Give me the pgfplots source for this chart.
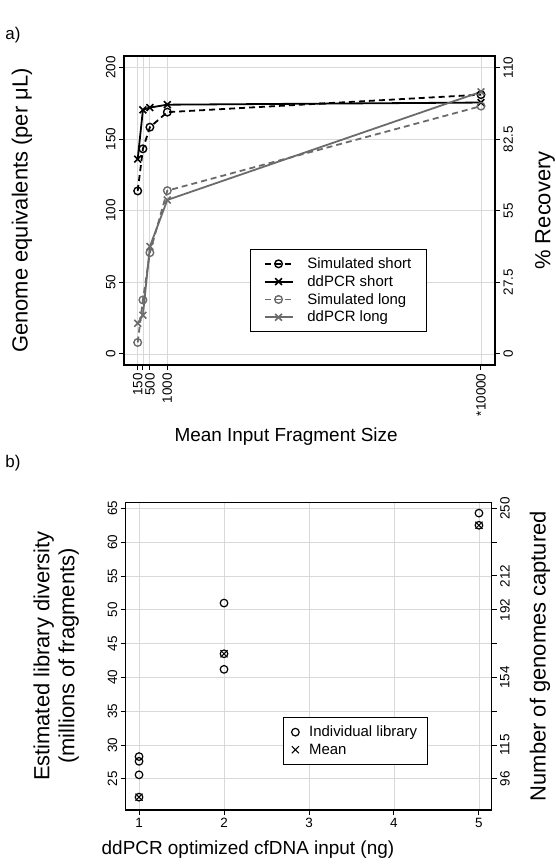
\documentclass[border=0pt]{standalone}
\usepackage{pgfplots}
\pgfplotsset{compat=1.18}
\usepackage{fontspec}
\setmainfont{Liberation Sans}
\definecolor{gridc}{gray}{0.85}
\definecolor{dgrey}{gray}{0.42}
\pgfplotsset{
  base/.style={
    scale only axis,
    tick align=outside,
    major tick length=5bp,
    axis line style={line width=1.4bp},
    every tick/.style={black, line width=1bp},
    /pgf/number format/assume math mode=true,
    ticklabel style={font=\fontsize{13.5}{16}\selectfont},
    xlabel style={font=\fontsize{19}{24}\selectfont},
    ylabel style={font=\fontsize{22}{25}\selectfont},
    scaled ticks=false,
  },
}
\begin{document}
\begin{tikzpicture}[x=1bp,y=1bp]
\useasboundingbox (0,0) rectangle (556,865);
\node[font=\fontsize{17}{20}\selectfont] at (13,830) {a)};
\node[font=\fontsize{17}{20}\selectfont] at (13,402) {b)};

% ---------- panel a ----------
\begin{axis}[base,
  at={(124bp,500bp)}, anchor=south west,
  width=371bp, height=309bp,
  xmin=-243, xmax=10402, ymin=-7.7, ymax=208,
  xtick={150,300,500,1000,10000}, xticklabels={150,,500,1000,*10000},
  ytick={0,50,100,150,200},
  xtick pos=bottom, ytick pos=left,
  grid=major, major grid style={gridc, line width=0.8bp},
  xticklabel style={rotate=90, anchor=east},
  yticklabel style={rotate=90, anchor=south},
  ylabel={Genome equivalents (per μL)},
  ylabel style={at={(axis description cs:-0.275,0.5)}, anchor=center},
  xlabel={Mean Input Fragment Size},
  xlabel style={at={(axis description cs:0.437,-0.233)}, anchor=center},
  legend image code/.code={\draw[mark repeat=2,mark phase=2,#1]
     plot coordinates {(0bp,0bp) (14bp,0bp) (28bp,0bp)};},
  legend style={at={(axis description cs:0.34,0.107)}, anchor=south west,
    draw=black, line width=1bp, font=\fontsize{15}{18}\selectfont,
    row sep=1.5bp, inner xsep=13bp, inner ysep=6bp,
    /tikz/every odd column/.append style={column sep=12bp}},
  legend cell align=left,
]
\addplot[black, dash pattern=on 6bp off 4bp, line width=1.8bp, mark=o, mark size=3.8bp,
  mark options={solid, line width=1.4bp}]
  coordinates {(150,113.8) (300,143.2) (500,158.3) (1000,168.8) (10000,181)};
\addlegendentry{Simulated short}
\addplot[black, solid, line width=1.8bp, mark=x, mark size=4.8bp,
  mark options={solid, line width=1.6bp}]
  coordinates {(150,136) (300,170.4) (500,172) (1000,174) (10000,175.5)};
\addlegendentry{ddPCR short}
\addplot[dgrey, dash pattern=on 6bp off 4bp, line width=1.8bp, mark=o, mark size=3.8bp,
  mark options={solid, line width=1.4bp}]
  coordinates {(150,8) (300,37.7) (500,70.7) (1000,114) (10000,173)};
\addlegendentry{Simulated long}
\addplot[dgrey, solid, line width=1.8bp, mark=x, mark size=4.8bp,
  mark options={solid, line width=1.6bp}]
  coordinates {(150,21.4) (300,27) (500,75) (1000,107.5) (10000,183)};
\addlegendentry{ddPCR long}
\end{axis}
\begin{axis}[base,
  at={(124bp,500bp)}, anchor=south west,
  width=371bp, height=309bp,
  xmin=-243, xmax=10402, ymin=-4.235, ymax=114.4,
  axis x line=none, axis y line*=right,
  ytick={0,27.5,55,82.5,110}, yticklabels={0,27.5,55,82.5,110},
  yticklabel style={rotate=90, anchor=north},
  ylabel={\% Recovery},
  ylabel style={at={(axis description cs:1.135,0.5)}, anchor=center},
]
\end{axis}

% ---------- panel b ----------
\begin{axis}[base,
  at={(125.7bp,55bp)}, anchor=south west,
  width=366bp, height=307.7bp,
  xmin=0.843, xmax=5.15, ymin=20.4, ymax=65.9,
  xtick={1,2,3,4,5},
  ytick={25,30,35,40,45,50,55,60,65},
  xtick pos=bottom, ytick pos=left,
  grid=major, major grid style={gridc, line width=0.8bp},
  yticklabel style={rotate=90, anchor=south},
  ylabel={Estimated library diversity\\(millions of fragments)},
  ylabel style={at={(axis description cs:-0.19,0.5)}, anchor=center, align=center},
  xlabel={ddPCR optimized cfDNA input (ng)},
  xlabel style={at={(axis description cs:0.334,-0.13)}, anchor=center},
  legend image code/.code={\draw[mark repeat=2,mark phase=2,#1]
     plot coordinates {(0bp,0bp) (6bp,0bp) (12bp,0bp)};},
  legend style={at={(axis description cs:0.43,0.146)}, anchor=south west,
    draw=black, line width=1bp, font=\fontsize{15}{18}\selectfont,
    row sep=1.5bp, inner xsep=8bp, inner ysep=7bp,
    /tikz/every odd column/.append style={column sep=8bp}},
  legend cell align=left,
]
\addplot[only marks, black, mark=o, mark size=3.8bp, mark options={line width=1.2bp}]
  coordinates {(1,28.3) (1,27.6) (1,25.6) (1,22.3) (2,51.0) (2,43.5) (2,41.2) (5,64.3) (5,62.5)};
\addlegendentry{Individual library}
\addplot[only marks, black, mark=x, mark size=5bp, mark options={line width=1bp}]
  coordinates {(1,22.3) (2,43.5) (5,62.5)};
\addlegendentry{Mean}
\end{axis}
\begin{axis}[base,
  at={(125.7bp,55bp)}, anchor=south west,
  width=366bp, height=307.7bp,
  xmin=0.843, xmax=5.15, ymin=78.46, ymax=253.45,
  axis x line=none, axis y line*=right,
  ytick={96.15,115.38,134.62,153.85,173.08,192.31,211.54,230.77,250},
  yticklabels={96,115,,154,,192,212,,250},
  yticklabel style={rotate=90, anchor=north},
  ylabel={Number of genomes captured},
  ylabel style={at={(axis description cs:1.132,0.5)}, anchor=center},
]
\end{axis}
\end{tikzpicture}
\end{document}
